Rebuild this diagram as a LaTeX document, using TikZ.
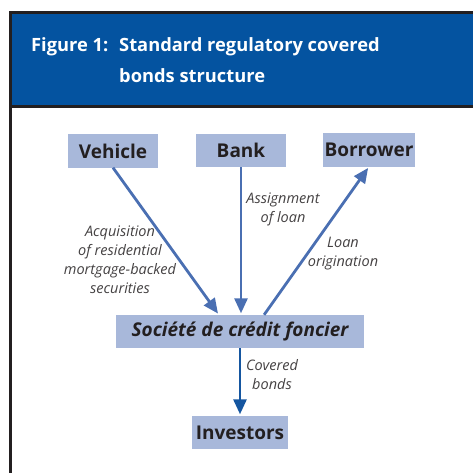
\documentclass[tikz,border=0pt]{standalone}
\usepackage{fontspec}
\setmainfont{Open Sans}
\usetikzlibrary{arrows.meta,calc}
\definecolor{hdrblue}{HTML}{0453A0}
\definecolor{boxblue}{HTML}{A8B8DA}
\definecolor{arrblue}{HTML}{4A6FB2}
\definecolor{darkarr}{HTML}{1556A0}
\definecolor{ink}{HTML}{231F20}
\tikzset{
  entity/.style={fill=boxblue, text=ink, font=\fontsize{19}{22}\selectfont\bfseries, minimum height=33, inner sep=0},
  flow/.style={draw=arrblue, line width=2.8, -{Triangle[length=15,width=13]}, shorten >=1.5},
  note/.style={font=\fontsize{14.5}{19}\selectfont\itshape, text=ink!85, align=center},
  heading/.style={anchor=base west, inner sep=0, text=white, font=\fontsize{18.3}{31}\selectfont\bfseries}
}

\begin{document}
\begin{tikzpicture}[x=1pt,y=-1pt]
            \useasboundingbox (0,0) rectangle (473,473);
            \fill[ink] (9,11) rectangle (473,108);
            \fill[hdrblue] (12,14) rectangle (473,105);
            \fill[ink] (9,108) rectangle (12,473);
            \node[heading] (fig) at (31,52) {Figure 1:};
            \node[heading] (title1) at (119,52) {Standard regulatory covered};
            \node[heading] (title2) at (119,83) {bonds structure};
            \node[entity, minimum width=90] (vehicle) at (113,151) {Vehicle};
            \node[entity, minimum width=90] (bank) at (241,150.5) {Bank};
            \node[entity, minimum width=92] (borrower) at (369,150) {Borrower};
            \node[entity, minimum width=248, font=\fontsize{19}{22}\selectfont\bfseries\itshape] (scf) at (240,331.5) {Société de crédit foncier};
            \node[entity, minimum width=96] (investors) at (240,432.5) {Investors};
            \coordinate (scfin) at ($(scf.north west)!0.415!(scf.north east)$);
            \coordinate (scfout) at ($(scf.north west)!0.597!(scf.north east)$);
            \draw[flow] (vehicle.south) -- (scfin);
            \draw[flow] (bank.south) -- (bank.south |- scf.north);
            \draw[flow] (scfout) -- (borrower.south);
            \draw[flow, draw=darkarr] (scf.south) -- (investors.north);
            \node[note] (acq) at (120,260) {Acquisition\\of residential\\mortgage-backed\\securities};
            \node[note] (assign) at (283,209) {Assignment\\of loan};
            \node[note] (orig) at (343,254) {Loan\\origination};
            \node[note] (cov) at (272,375) {Covered\\bonds};
        \end{tikzpicture}
\end{document}
